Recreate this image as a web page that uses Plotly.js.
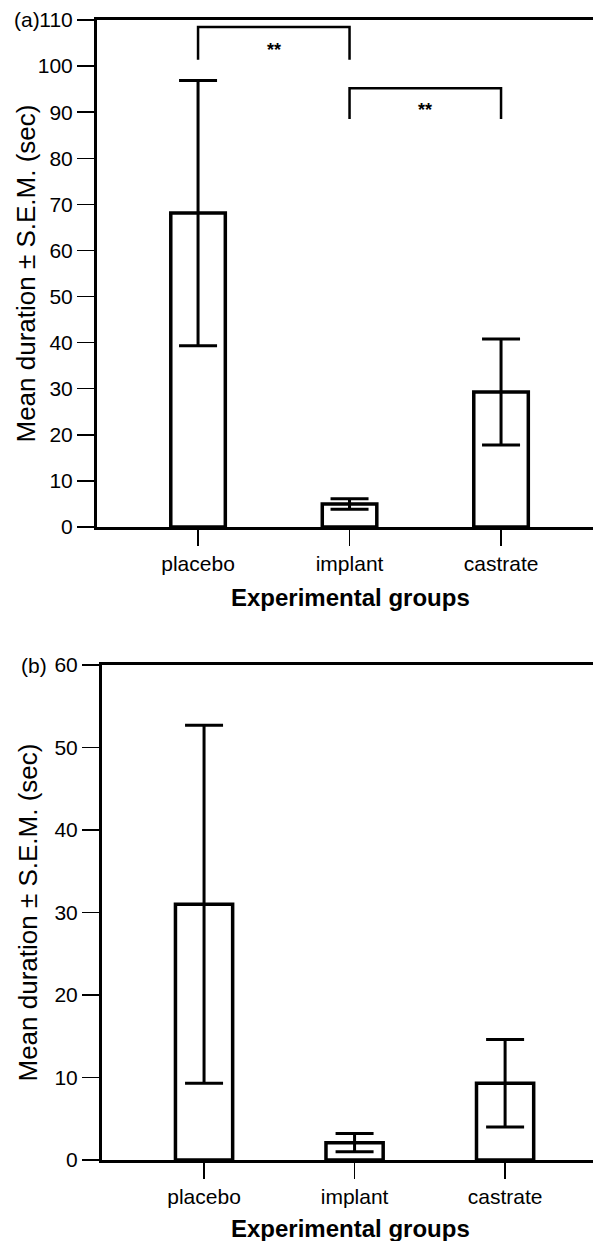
<!DOCTYPE html>
<html>
<head>
<meta charset="utf-8">
<script src="https://cdn.plot.ly/plotly-3.0.1.min.js"></script>
<style>html,body{margin:0;padding:0;background:#fff;}#chart{width:593px;height:1241px;}</style>
</head>
<body>
<div id="chart"></div>
<script>
// ---- data ----
const groups = ['placebo', 'implant', 'castrate'];
const meanA = [68.1, 5.0, 29.3];
const semA = [28.8, 1.15, 11.5];
const meanB = [31.0, 2.1, 9.3];
const semB = [21.7, 1.1, 5.3];
const yTicksA = [0, 10, 20, 30, 40, 50, 60, 70, 80, 90, 100, 110];
const yTicksB = [0, 10, 20, 30, 40, 50, 60];
const bracketFrom = ['placebo', 'implant'];
const bracketTo = ['implant', 'castrate'];
const bracketTop = [108.5, 95.2];
const bracketLeg = [101.4, 88.5];
const bracketText = ['**', '**'];
const bracketTextY = [103.4, 90.4];
const panelLabels = ['(a)', '(b)'];
const xTitle = 'Experimental groups';
const yTitle = 'Mean duration ± S.E.M. (sec)';

const FONT = 'Liberation Sans, Arial, sans-serif';
const H = 1241, W = 593;

const traces = [];
traces.push({
  type: 'bar', x: groups, y: meanA, xaxis: 'x', yaxis: 'y', width: 0.36,
  marker: {color: '#ffffff', line: {color: '#000', width: 3.5}},
  error_y: {type: 'data', array: semA, visible: true, color: '#000', thickness: 3, width: 19},
  hoverinfo: 'none', showlegend: false
});
traces.push({
  type: 'bar', x: groups, y: meanB, xaxis: 'x2', yaxis: 'y2', width: 0.38,
  marker: {color: '#ffffff', line: {color: '#000', width: 3.5}},
  error_y: {type: 'data', array: semB, visible: true, color: '#000', thickness: 3, width: 19},
  hoverinfo: 'none', showlegend: false
});
for (let i = 0; i < bracketFrom.length; i++) {
  traces.push({
    type: 'scatter', mode: 'lines', xaxis: 'x', yaxis: 'y',
    x: [bracketFrom[i], bracketFrom[i], bracketTo[i], bracketTo[i]],
    y: [bracketLeg[i], bracketTop[i], bracketTop[i], bracketLeg[i]],
    line: {color: '#000', width: 2.5}, showlegend: false, hoverinfo: 'none', cliponaxis: false
  });
}

const yA = [1 - 527 / H, 1 - 20 / H];
const yB = [1 - 1160 / H, 1 - 665 / H];

function xaxisDef(domainStart, range, anchor) {
  return {
    domain: [domainStart, 1], range: range, anchor: anchor, type: 'category',
    categoryorder: 'array', categoryarray: groups,
    showline: true, linecolor: '#000', linewidth: 3, mirror: true,
    ticks: 'outside', ticklen: 16, tickwidth: 1.5, tickcolor: '#000',
    tickfont: {family: FONT, size: 21, color: '#000'},
    showgrid: false, zeroline: false, fixedrange: true, automargin: false
  };
}
function yaxisDef(domain, range, ticks, anchor) {
  return {
    domain: domain, range: range, anchor: anchor, tickmode: 'array', tickvals: ticks,
    showline: true, linecolor: '#000', linewidth: 3, mirror: false,
    ticks: 'outside', ticklen: 17, tickwidth: 1.5, tickcolor: '#000',
    tickfont: {family: FONT, size: 21, color: '#000'},
    showgrid: false, zeroline: false, fixedrange: true, automargin: false
  };
}

const annotations = [];
for (let i = 0; i < bracketText.length; i++) {
  const xi = (groups.indexOf(bracketFrom[i]) + groups.indexOf(bracketTo[i])) / 2;
  annotations.push({xref: 'x', yref: 'y', x: xi, y: bracketTextY[i], text: '<b>' + bracketText[i] + '</b>',
    showarrow: false, font: {family: FONT, size: 18, color: '#000'}});
}
// titles
annotations.push({xref: 'paper', yref: 'paper', x: 350 / W, y: 1 - 598 / H, text: '<b>' + xTitle + '</b>',
  showarrow: false, xanchor: 'center', yanchor: 'middle', font: {family: FONT, size: 24, color: '#000'}});
annotations.push({xref: 'paper', yref: 'paper', x: 350 / W, y: 1 - 1228 / H, text: '<b>' + xTitle + '</b>',
  showarrow: false, xanchor: 'center', yanchor: 'middle', font: {family: FONT, size: 24, color: '#000'}});
annotations.push({xref: 'paper', yref: 'paper', x: 25 / W, y: (yA[0] + yA[1]) / 2, text: yTitle, textangle: -90,
  showarrow: false, xanchor: 'center', yanchor: 'middle', font: {family: FONT, size: 26, color: '#000'}});
annotations.push({xref: 'paper', yref: 'paper', x: 27 / W, y: (yB[0] + yB[1]) / 2, text: yTitle, textangle: -90,
  showarrow: false, xanchor: 'center', yanchor: 'middle', font: {family: FONT, size: 26, color: '#000'}});
annotations.push({xref: 'paper', yref: 'paper', x: 12 / W, y: 1 - 20 / H, text: panelLabels[0],
  showarrow: false, xanchor: 'left', yanchor: 'middle', font: {family: FONT, size: 21, color: '#000'}});
annotations.push({xref: 'paper', yref: 'paper', x: 19 / W, y: 1 - 665 / H, text: panelLabels[1],
  showarrow: false, xanchor: 'left', yanchor: 'middle', font: {family: FONT, size: 21, color: '#000'}});

const layout = {
  width: W, height: H, margin: {l: 0, r: 0, t: 0, b: 0},
  paper_bgcolor: '#fff', plot_bgcolor: '#fff', showlegend: false,
  font: {family: FONT, color: '#000'},
  xaxis: xaxisDef(97 / W, [-0.667, 2.607], 'y'),
  yaxis: yaxisDef(yA, [0, 110], yTicksA, 'x'),
  xaxis2: xaxisDef(102 / W, [-0.678, 2.584], 'y2'),
  yaxis2: yaxisDef(yB, [0, 60], yTicksB, 'x2'),
  annotations: annotations
};

Plotly.newPlot('chart', traces, layout, {staticPlot: true, displayModeBar: false});
</script>
</body>
</html>
